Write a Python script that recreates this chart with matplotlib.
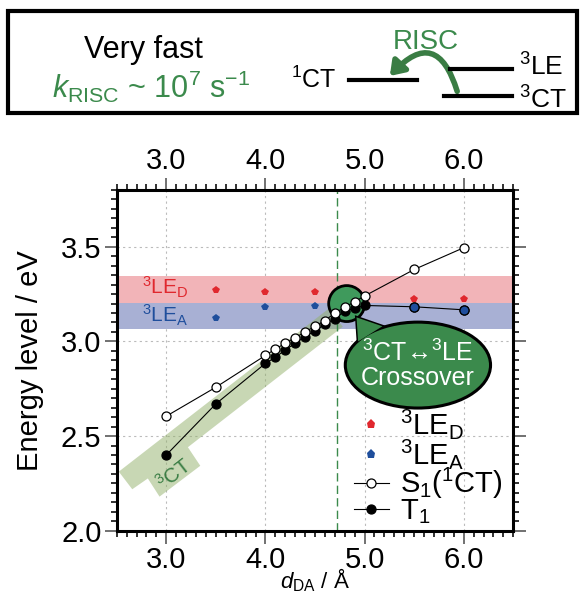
# dDA dependence of S1 / T1 levels with 3LE bands

import matplotlib.pyplot as plt
from matplotlib.patches import Rectangle, Ellipse, Polygon, FancyArrowPatch
from matplotlib.lines import Line2D
from matplotlib.ticker import MultipleLocator, FormatStrFormatter
import numpy as np

plt.rcParams['font.family'] = ['Liberation Sans', 'DejaVu Sans']
plt.rcParams['mathtext.fontset'] = 'custom'
plt.rcParams['mathtext.rm'] = 'Liberation Sans'
plt.rcParams['mathtext.it'] = 'Liberation Sans:italic'
plt.rcParams['mathtext.bf'] = 'Liberation Sans:bold'

# data
d_da = [3.0, 3.5, 4.0, 4.1, 4.2, 4.3, 4.4, 4.5, 4.6, 4.7, 4.8, 4.9, 5.0, 5.5, 6.0]
s1 = [2.605, 2.758, 2.926, 2.96, 2.99, 3.02, 3.05, 3.08, 3.11, 3.15, 3.18, 3.21, 3.24, 3.38, 3.495]
t1 = [2.40, 2.67, 2.884, 2.916, 2.955, 2.99, 3.025, 3.056, 3.09, 3.12, 3.16, 3.175, 3.19, 3.183, 3.167]

d_le = [3.5, 4.0, 4.5, 5.5, 6.0]
le_d = [3.27, 3.262, 3.262, 3.223, 3.223]
le_a = [3.123, 3.18, 3.188, 3.183, 3.167]

band_le_d = [3.205, 3.345]
band_le_a = [3.065, 3.203]
crossover_x = 4.72

# shaded 3CT guide (data coords) with label tab
ct_band = [(2.521, 2.312), (2.657, 2.219), (2.814, 2.276), (2.932, 2.180),
           (3.343, 2.343), (3.218, 2.441), (4.781, 3.078), (4.638, 3.173)]

xticks = [3.0, 4.0, 5.0, 6.0]
yticks = [2.0, 2.5, 3.0, 3.5]

red = '#e0282e'
blue = '#1f4e9c'
green = '#3b8a4c'

W, H = 584, 594
fig = plt.figure(figsize=(W / 100, H / 100), dpi=100)


def f(px, py):
    return px / W, 1 - py / H


ax = fig.add_axes([116.7 / W, 1 - 530.7 / H, (513.3 - 116.7) / W, (530.7 - 190.0) / H])
ax.set_xlim(2.5, 6.5)
ax.set_ylim(2.0, 3.8)

ax.set_xticks(xticks)
ax.set_yticks(yticks)
ax.xaxis.set_minor_locator(MultipleLocator(0.1))
ax.yaxis.set_minor_locator(MultipleLocator(0.05))
ax.xaxis.set_major_formatter(FormatStrFormatter('%.1f'))
ax.yaxis.set_major_formatter(FormatStrFormatter('%.1f'))
ax.tick_params(which='both', direction='out', top=True, right=True,
               labeltop=True, labelright=False, width=1.3)
ax.tick_params(which='major', length=9, color='#666', labelsize=21, pad=2)
ax.tick_params(which='minor', length=4.5, color='#222')
for s in ax.spines.values():
    s.set_linewidth(2.2)

ax.grid(which='major', ls=(0, (2, 3)), color='#bbbbbb', lw=0.8, zorder=0)
ax.set_axisbelow(True)

ax.axhspan(*band_le_d, color='#f2b4b8', lw=0, zorder=1)
ax.axhspan(*band_le_a, color='#a8b0d4', lw=0, zorder=1)
ax.text(2.76, 3.285, '$^{3}$LE$_{\\mathrm{D}}$', color=red, fontsize=15, va='center', zorder=2)
ax.text(2.76, 3.14, '$^{3}$LE$_{\\mathrm{A}}$', color=blue, fontsize=15, va='center', zorder=2)

ax.add_patch(Polygon(ct_band, closed=True, facecolor='#92b06a', alpha=0.5, lw=0, zorder=1.5))
ax.text(3.08, 2.30, '$^{3}$CT', color='#3a7d44', fontsize=15, rotation=38,
        ha='center', va='center', zorder=2)

ax.axvline(crossover_x, color=green, ls=(0, (6, 3)), lw=1.0, zorder=2)

# crossover circle + speech bubble
ax.add_patch(Ellipse((4.82, 3.20), 0.364, 0.19, facecolor='#3f9a5c', edgecolor='k', lw=2, zorder=3))
tail = [(4.919, 3.127), (4.935, 3.0), (5.18, 3.08)]
ax.add_patch(Polygon(tail, closed=True, facecolor=green, edgecolor='k', lw=2.2, zorder=3))
ax.add_patch(Ellipse((5.538, 2.875), 1.465, 0.454, facecolor=green, edgecolor='k', lw=2.2, zorder=3.1))
ax.add_patch(Polygon(tail, closed=True, facecolor=green, edgecolor='none', lw=0, zorder=3.2))
ax.text(5.538, 2.875, '$^{3}$CT\u2194$^{3}$LE\nCrossover', color='white', fontsize=18,
        ha='center', va='center', linespacing=1.0, zorder=3.3)

# series
ax.plot(d_le, le_d, 'p', color=red, ms=5.5, mew=0, zorder=4, label='$^{3}$LE$_{\\mathrm{D}}$')
ax.plot(d_le, le_a, 'p', color=blue, ms=5.5, mew=0, zorder=4, label='$^{3}$LE$_{\\mathrm{A}}$')
ax.plot(d_da, s1, '-o', color='k', lw=0.8, ms=6.5, mfc='white', mec='k', mew=0.9,
        zorder=5, label='S$_{1}$($^{1}$CT)')
ax.plot(d_da, t1, '-o', color='k', lw=0.8, ms=6.5, mfc='k', mec='k', mew=0.9,
        zorder=4.5, label='T$_{1}$')
d_arr = np.array(d_da)
t_arr = np.array(t1)
hi = d_arr >= 5.5
ax.plot(d_arr[hi], t_arr[hi], 'o', ms=6.5, mfc=blue, mec='k', mew=0.9, zorder=4.6)

leg = ax.legend(loc='lower right', bbox_to_anchor=(1.003, -0.02), frameon=False, fontsize=21,
                handlelength=1.2, handletextpad=0.38, labelspacing=-0.15, borderaxespad=0)
for h in leg.legend_handles:
    h.set_markersize(6.5)

ax.set_ylabel('Energy level / eV', fontsize=21, labelpad=12)
ax.set_xlabel('$d_{\\mathrm{DA}}$ / \u00c5', fontsize=16)
ax.xaxis.set_label_coords(0.5, -0.105)

# top scheme box
fig.patches.append(Rectangle(f(8, 113), (577 - 8) / W, (113 - 11) / H, transform=fig.transFigure,
                             fill=False, edgecolor='k', lw=3))
fig.text(*f(143, 58), 'Very fast', fontsize=22, ha='center', va='baseline')
fig.text(*f(151, 98), '$k_{\\mathrm{RISC}}$ ~ 10$^{7}$ s$^{-1}$', fontsize=22, color=green,
         ha='center', va='baseline')
fig.text(*f(336, 88), '$^{1}$CT', fontsize=18, ha='right', va='baseline')
fig.text(*f(519, 76), '$^{3}$LE', fontsize=19, ha='left', va='baseline')
fig.text(*f(519, 109), '$^{3}$CT', fontsize=19, ha='left', va='baseline')
fig.text(*f(426, 42), 'RISC', fontsize=20, color=green, ha='center', va='center')
for x0, x1, y in [(349, 417, 80), (450, 512, 69.3), (444, 512, 95.7)]:
    fig.add_artist(Line2D([x0 / W, x1 / W], [1 - y / H, 1 - y / H], color='k', lw=3,
                          transform=fig.transFigure))
fig.add_artist(FancyArrowPatch(f(458, 94), f(388, 78), transform=fig.transFigure,
                               connectionstyle='arc3,rad=0.9', arrowstyle='-|>,head_length=5,head_width=3.5',
                               color='#3a7d44', lw=4, mutation_scale=1.6))

fig.savefig('out.png', dpi=100)
